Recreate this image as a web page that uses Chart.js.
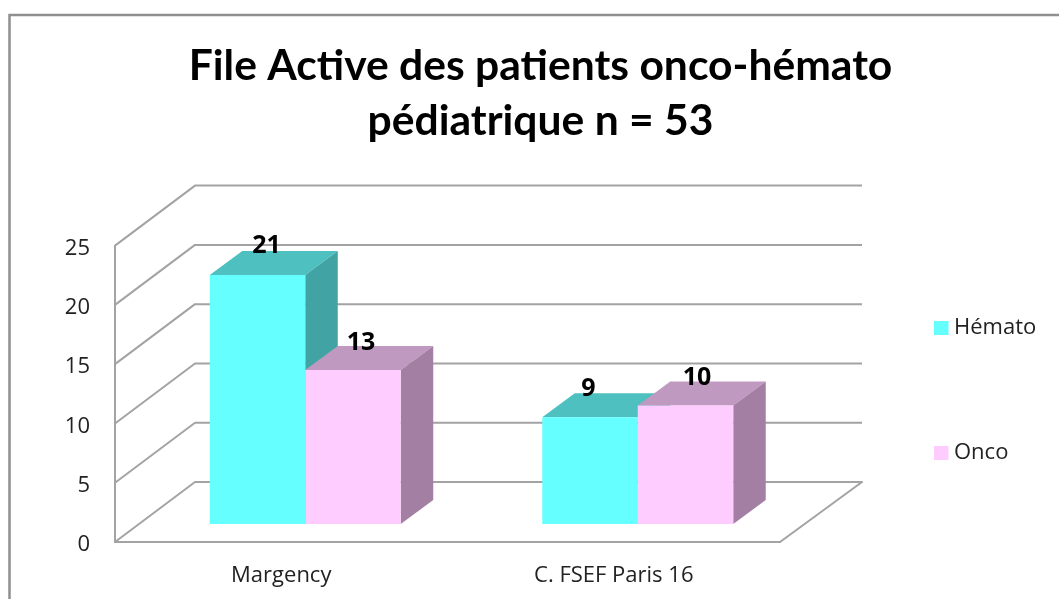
<!DOCTYPE html>
<html><head><meta charset="utf-8">
<script src="https://cdn.jsdelivr.net/npm/chart.js@4"></script>
<style>html,body{margin:0;padding:0;background:#fff;overflow:hidden}canvas{display:block}</style>
</head><body><div style="width:1059px;height:599px"><canvas id="c"></canvas></div>
<script>
const titleLines = ['File Active des patients onco-hémato', 'pédiatrique n = 53'];
const categories = ['Margency', 'C. FSEF Paris 16'];
const hemato = [21, 9];
const onco = [13, 10];
const yTicks = [0, 5, 10, 15, 20, 25];

const WALL = {dx: 80, dy: -60};
const BAR_OFFSET = {dx: 24, dy: -18};
const BAR_DEPTH = {dx: 32.5, dy: -24};
const LINE = '#a3a3a3';
const TEXT = '#222222';
const FACES = [
  {front: '#66FFFF', top: '#4EC0C0', side: '#41A3A3'},
  {front: '#FFCCFF', top: '#C099C0', side: '#A380A3'}
];
const LABEL_NUDGE = [[[9, -29.5], [-1.5, -28.5]], [[8, -27], [11.5, -27.6]]];

function poly(ctx, pts, fill) {
  ctx.beginPath();
  pts.forEach((p, i) => i ? ctx.lineTo(p[0], p[1]) : ctx.moveTo(p[0], p[1]));
  ctx.closePath();
  ctx.fillStyle = fill;
  ctx.fill();
}

const depth3d = {
  id: 'depth3d',
  beforeLayout(chart) {
    const lg = chart.legend;
    if (lg && !lg._wrapped) {
      const f = lg.fit;
      lg.fit = function () { f.call(this); this.width = 279; };
      lg._wrapped = true;
    }
  },
  afterLayout(chart) {
    const lg = chart.legend;
    const pad = lg.options.labels.padding;
    lg.left = 934 + 5.5 - pad;
    lg.right = 1059;
    lg.top = 328 - 11 - pad;
    lg.bottom = 599;
    const y = chart.scales.y;
    if (!y._wrapped) {
      const orig = y._computeLabelItems;
      y._computeLabelItems = function (area) {
        const items = orig.call(this, area);
        items.forEach(it => { it.options.translation = [it.options.translation[0], it.options.translation[1] + 3]; });
        return items;
      };
      y._wrapped = true;
    }
  },
  beforeDraw(chart) {
    const ctx = chart.ctx;
    ctx.save();
    ctx.strokeStyle = '#8f8f8f';
    ctx.lineWidth = 2.5;
    ctx.beginPath();
    ctx.moveTo(9.5, 599);
    ctx.lineTo(9.5, 15);
    ctx.lineTo(1059, 15);
    ctx.stroke();
    ctx.restore();
  },
  beforeDatasetsDraw(chart) {
    const ctx = chart.ctx;
    const {y} = chart.scales;
    const left = chart.chartArea.left, right = chart.chartArea.right;
    ctx.save();
    ctx.strokeStyle = LINE;
    ctx.lineWidth = 2;
    ctx.lineJoin = 'round';
    yTicks.forEach(v => {
      const py = y.getPixelForValue(v);
      ctx.beginPath();
      ctx.moveTo(left, py);
      ctx.lineTo(left + WALL.dx, py + WALL.dy);
      ctx.lineTo(right + WALL.dx + 2, py + WALL.dy);
      if (v === 0) ctx.lineTo(right, py);
      ctx.stroke();
    });
    ctx.restore();
    [0, 1].forEach(ds => {
      chart.getDatasetMeta(ds).data.forEach(bar => {
        const w = bar.width / 2;
        const l = bar.x - w + BAR_OFFSET.dx, r = bar.x + w + BAR_OFFSET.dx;
        const t = bar.y + BAR_OFFSET.dy, b = bar.base + BAR_OFFSET.dy;
        const dx = BAR_DEPTH.dx, dy = BAR_DEPTH.dy;
        poly(ctx, [[l, t], [r, t], [r + dx, t + dy], [l + dx, t + dy]], FACES[ds].top);
        poly(ctx, [[r, t], [r + dx, t + dy], [r + dx, b + dy], [r, b]], FACES[ds].side);
      });
    });
    ctx.save();
    ctx.translate(BAR_OFFSET.dx, BAR_OFFSET.dy);
  },
  afterDatasetsDraw(chart) {
    const ctx = chart.ctx;
    ctx.restore();
    ctx.save();
    ctx.font = 'bold 25px "Open Sans"';
    ctx.fillStyle = '#000';
    ctx.textAlign = 'center';
    ctx.textBaseline = 'middle';
    chart.data.datasets.forEach((d, ds) => {
      chart.getDatasetMeta(ds).data.forEach((bar, i) => {
        const n = LABEL_NUDGE[ds][i];
        ctx.fillText(String(d.data[i]), bar.x + BAR_OFFSET.dx + n[0], bar.y + BAR_OFFSET.dy + n[1]);
      });
    });
    ctx.restore();
  }
};

new Chart(document.getElementById('c'), {
  type: 'bar',
  data: {
    labels: categories,
    datasets: [
      {label: 'Hémato', data: hemato, backgroundColor: FACES[0].front, clip: false, borderWidth: 0},
      {label: 'Onco', data: onco, backgroundColor: FACES[1].front, clip: false, borderWidth: 0}
    ]
  },
  options: {
    responsive: true,
    maintainAspectRatio: false,
    animation: false,
    layout: {padding: {left: 22, right: 0, top: 0, bottom: 0}},
    datasets: {bar: {barPercentage: 1, categoryPercentage: 0.5744}},
    plugins: {
      tooltip: {enabled: false},
      title: {
        display: true,
        text: titleLines,
        color: '#000',
        font: {family: 'Lato', weight: 'bold', size: 42.6, lineHeight: 1.31},
        padding: {top: 38, bottom: 96}
      },
      legend: {
        display: true,
        position: 'right',
        align: 'start',
        labels: {
          color: TEXT,
          font: {family: '"Open Sans"', size: 22},
          boxWidth: 3.5,
          boxHeight: 3,
          padding: 103,
          generateLabels(chart) {
            return chart.data.datasets.map((d, i) => ({
              text: d.label,
              fillStyle: d.backgroundColor,
              strokeStyle: d.backgroundColor,
              fontColor: TEXT,
              lineWidth: 11,
              lineJoin: 'miter',
              datasetIndex: i
            }));
          }
        }
      }
    },
    scales: {
      x: {
        type: 'category',
        grid: {display: false},
        border: {display: true, color: LINE, width: 2},
        ticks: {color: TEXT, font: {family: '"Open Sans"', size: 22}, padding: 13, maxRotation: 0},
        afterFit(s) { s.height = 57; }
      },
      y: {
        min: 0,
        max: 25,
        grid: {display: false},
        border: {display: true, color: LINE, width: 2},
        afterBuildTicks(s) { s.ticks = yTicks.map(v => ({value: v})); },
        ticks: {color: TEXT, font: {family: '"Open Sans"', size: 22}, padding: 17},
        afterFit(s) { s.width = 93; }
      }
    }
  },
  plugins: [depth3d]
});
</script></body></html>
